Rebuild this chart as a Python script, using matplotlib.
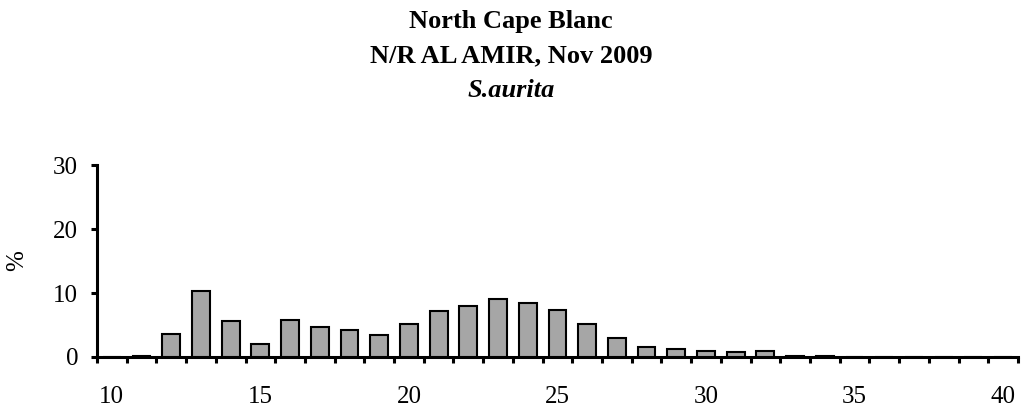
import matplotlib
matplotlib.use("Agg")
from matplotlib import pyplot as plt
import numpy as np

# length classes (cm) and percentage
length = list(range(10, 41))
pct = [0, 0.1, 3.6, 10.3, 5.6, 2.1, 5.8, 4.7, 4.2, 3.4,
       5.2, 7.2, 7.9, 9.1, 8.5, 7.4, 5.1, 3.0, 1.5, 1.3,
       0.9, 0.8, 0.9, 0.1, 0.1, 0, 0, 0, 0, 0, 0]
xticklabels = [10, 15, 20, 25, 30, 35, 40]
yticks = [0, 10, 20, 30]

plt.rcParams['font.family'] = ['Liberation Serif', 'DejaVu Serif']

fig = plt.figure(figsize=(10.25, 4.12), dpi=100)
ax = fig.add_axes([0.0946, 0.1335, 0.8985, 0.466])

ax.bar(length, pct, width=0.6, color='#a6a6a6', edgecolor='black', linewidth=1.5, zorder=3)

ax.set_xlim(length[0] - 0.5, length[-1] + 0.5)
ax.set_ylim(0, 30)
# category labels centred on the bars, tick marks between categories
ax.set_xticks(xticklabels)
ax.set_xticks(np.arange(length[0] - 0.5, length[-1] + 1), minor=True)
ax.tick_params(axis='x', which='major', length=0, labelsize=18, pad=21)
ax.tick_params(axis='x', which='minor', direction='out', length=4, width=2.2)
ax.set_yticks(yticks)
ax.tick_params(axis='y', direction='out', length=4.5, width=2.2, labelsize=18, pad=9)

for s in ['top', 'right']:
    ax.spines[s].set_visible(False)
for s in ['left', 'bottom']:
    ax.spines[s].set_linewidth(2.2)

ax.set_ylabel('%', fontsize=18)
ax.yaxis.set_label_coords(-0.075, 0.5)

fig.text(0.4985, 1 - 28 / 412, 'North Cape Blanc', ha='center', va='baseline', fontsize=19, fontweight='bold')
fig.text(0.4985, 1 - 62 / 412, 'N/R AL AMIR, Nov 2009', ha='center', va='baseline', fontsize=19, fontweight='bold')
fig.text(0.4985, 1 - 97 / 412, 'S.aurita', ha='center', va='baseline', fontsize=19, fontweight='bold', style='italic')

fig.savefig('out.png', dpi=100)
